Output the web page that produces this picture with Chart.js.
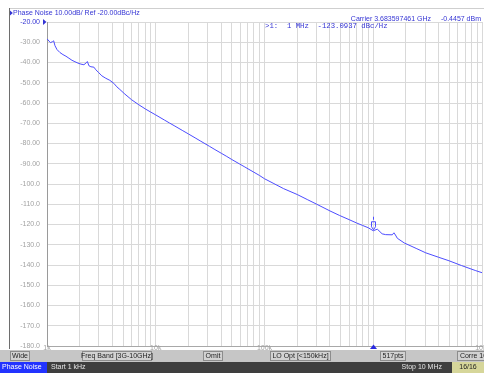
<!DOCTYPE html>
<html>
<head>
<meta charset="utf-8">
<script src="https://cdn.jsdelivr.net/npm/chart.js@4.4.1/dist/chart.umd.min.js"></script>
<style>
  html, body { margin: 0; padding: 0; background: #fff; overflow: hidden; }
  canvas { display: block; }
</style>
</head>
<body>
<canvas id="pn" width="484" height="373"></canvas>
<script>
// Offset frequency (Hz) of each trace sample
const freqHz = [
  1000, 1043, 1077, 1123, 1152, 1184, 1235, 1316, 1402, 1494,
  1592, 1696, 1806, 1925, 2051, 2185, 2301, 2350, 2429, 2533,
  2699, 2814, 3000, 3196, 3474, 3780, 4115, 4385, 4673, 5200,
  6000, 7000, 8000, 9000, 10000, 12000, 13400, 15000, 17500, 20000,
  23000, 26000, 31200, 35000, 40000, 45000, 50000, 58900, 65000, 72000,
  80000, 90000, 100000, 120000, 150000, 200000, 250000, 300000, 400000, 488000,
  600000, 700000, 800000, 900000, 1000000, 1090000, 1207000, 1300000, 1496000, 1550000,
  1600000, 1665000, 1926000, 2480000, 3043000, 4000000, 4966000, 6500000, 8770000, 10000000
];
// Single-sideband phase noise (dBc/Hz)
const noiseDbc = [
  -28.3, -29.4, -30.2, -29.7, -29.3, -31.7, -33.6, -35.1, -36.1, -36.9,
  -37.9, -38.9, -39.6, -40.3, -40.8, -41.1, -40.1, -39.5, -41.6, -42.1,
  -42.3, -43.6, -45.1, -46.6, -47.8, -48.8, -50.3, -52.0, -53.3, -55.6,
  -58.4, -60.9, -62.9, -64.5, -65.9, -68.4, -69.9, -71.4, -73.5, -75.3,
  -77.2, -78.9, -81.4, -83.0, -84.8, -86.4, -87.9, -90.1, -91.4, -92.8,
  -94.2, -95.8, -97.4, -99.6, -102.3, -105.2, -107.8, -109.9, -113.3, -115.5,
  -117.6, -119.2, -120.5, -121.6, -123.0937, -122.3, -124.6, -125.0, -125.1, -124.1,
  -125.2, -126.8, -129.1, -131.8, -134.0, -136.2, -137.9, -140.3, -142.8, -143.8
];

// Marker 1
const markerFreq = 1000000;
const markerValue = -123.0937;
const markerText = '>1:  1 MHz  -123.0937 dBc/Hz';

// Axis ranges and labels
const refLevel = -20;
const bottomLevel = -180;
const dbPerDiv = 10;
const gridDecades = [1000, 10000, 100000, 1000000];
const gridMultiples = [1, 2, 3, 4, 5, 6, 7, 8, 9];
const stopFreq = 10000000;
const xLabelFreqs = [1000, 10000, 100000, 10000000];
const xLabels = ['1k', '10k', '100k', '10M'];

const titleText = 'Phase Noise 10.00dB/ Ref -20.00dBc/Hz';
const carrierText = 'Carrier 3.683597461 GHz';
const carrierPower = '-0.4457 dBm';

const softkeys = [
  { text: 'Wide', x0: 10, x1: 30 },
  { text: 'Freq Band [3G-10GHz]', x0: 82, x1: 152 },
  { text: 'Omit', x0: 203, x1: 223 },
  { text: 'LO Opt [<150kHz]', x0: 270, x1: 331 },
  { text: '517pts', x0: 380, x1: 406 },
  { text: 'Corre 10', x0: 457, x1: 490 }
];

const BLUE_TEXT = '#3434d4';
const TRACE = '#4d4dff';
const GRID = '#d9d9d9';
const LABEL = '#a2a2a2';
const FONT = '"Liberation Sans", Arial, sans-serif';

const points = freqHz.map((f, i) => ({ x: f, y: noiseDbc[i] }));
const gridFreqs = [];
gridDecades.forEach(d => gridMultiples.forEach(m => gridFreqs.push(d * m)));
gridFreqs.push(stopFreq);

const analyzerChrome = {
  id: 'analyzerChrome',
  beforeDraw(chart) {
    const ctx = chart.ctx;
    ctx.save();
    ctx.fillStyle = '#ffffff';
    ctx.fillRect(0, 0, chart.width, chart.height);
    // window frame
    ctx.strokeStyle = '#cfcfcf';
    ctx.lineWidth = 1;
    ctx.beginPath();
    ctx.moveTo(9, 8.5); ctx.lineTo(chart.width, 8.5);
    ctx.stroke();
    ctx.strokeStyle = '#6e6e6e';
    ctx.beginPath();
    ctx.moveTo(9.5, 8); ctx.lineTo(9.5, 349);
    ctx.stroke();
    ctx.restore();
  },
  afterDraw(chart) {
    const ctx = chart.ctx;
    const xs = chart.scales.x, ys = chart.scales.y;
    const area = chart.chartArea;
    ctx.save();

    // title
    ctx.fillStyle = BLUE_TEXT;
    ctx.beginPath();
    ctx.moveTo(10, 10.5); ctx.lineTo(10, 15.5); ctx.lineTo(12.8, 13); ctx.closePath();
    ctx.fill();
    ctx.font = '7px ' + FONT;
    ctx.textBaseline = 'middle';
    ctx.textAlign = 'left';
    ctx.fillText(titleText, 13, 13);

    // carrier readout
    ctx.textAlign = 'right';
    ctx.fillText(carrierPower, 481, 19);
    ctx.fillText(carrierText, 431, 19);

    // marker readout
    ctx.textAlign = 'left';
    ctx.font = '7.3px "Liberation Mono", "DejaVu Sans Mono", monospace';
    ctx.fillText(markerText, 265, 26);

    // reference level pointer
    const yRef = ys.getPixelForValue(refLevel);
    ctx.beginPath();
    ctx.moveTo(43, yRef - 3); ctx.lineTo(43, yRef + 3); ctx.lineTo(46.5, yRef); ctx.closePath();
    ctx.fill();

    // frequency labels
    ctx.font = '7px ' + FONT;
    ctx.fillStyle = LABEL;
    ctx.textAlign = 'center';
    xLabelFreqs.forEach((f, i) => {
      ctx.fillText(xLabels[i], xs.getPixelForValue(f), area.bottom + 2.5);
    });

    // marker on trace
    const mx = Math.round(xs.getPixelForValue(markerFreq)) + 0.5;
    const my = ys.getPixelForValue(markerValue);
    ctx.strokeStyle = TRACE;
    ctx.fillStyle = TRACE;
    ctx.lineWidth = 1;
    ctx.beginPath();
    ctx.moveTo(mx, my - 14); ctx.lineTo(mx, my - 11);
    ctx.stroke();
    ctx.beginPath();
    ctx.moveTo(mx - 2, my - 9);
    ctx.lineTo(mx + 2, my - 9);
    ctx.lineTo(mx + 2, my - 4);
    ctx.lineTo(mx, my - 1);
    ctx.lineTo(mx - 2, my - 4);
    ctx.closePath();
    ctx.stroke();

    // marker pointer on frequency axis
    ctx.fillStyle = '#2a2ae0';
    ctx.beginPath();
    ctx.moveTo(mx - 3.5, 349); ctx.lineTo(mx + 3.5, 349); ctx.lineTo(mx, 344.5); ctx.closePath();
    ctx.fill();

    // softkey bar
    ctx.fillStyle = '#c6c6c6';
    ctx.fillRect(0, 350, chart.width, 12);
    ctx.font = '7px ' + FONT;
    ctx.textAlign = 'center';
    softkeys.forEach(k => {
      ctx.fillStyle = '#d2d2d2';
      ctx.fillRect(k.x0, 351, k.x1 - k.x0, 10);
      ctx.strokeStyle = '#8c8c8c';
      ctx.strokeRect(k.x0 + 0.5, 351.5, k.x1 - k.x0 - 1, 9);
      ctx.fillStyle = '#1e1e1e';
      ctx.fillText(k.text, (k.x0 + k.x1) / 2, 356.5);
    });

    // status bar
    ctx.fillStyle = '#3e3e3e';
    ctx.fillRect(0, 362, chart.width, 11);
    ctx.fillStyle = '#2233ff';
    ctx.fillRect(0, 362, 47, 11);
    ctx.fillStyle = '#ffffff';
    ctx.textAlign = 'left';
    ctx.fillText('Phase Noise', 2, 367.5);
    ctx.fillStyle = '#e6e6e6';
    ctx.fillText('Start 1 kHz', 51, 367.5);
    ctx.textAlign = 'right';
    ctx.fillText('Stop 10 MHz', 442, 367.5);
    ctx.fillStyle = '#d6d69a';
    ctx.fillRect(452, 362, chart.width - 452, 11);
    ctx.fillStyle = '#1e1e1e';
    ctx.textAlign = 'center';
    ctx.fillText('16/16', 468, 367.5);

    ctx.restore();
  }
};

new Chart(document.getElementById('pn'), {
  type: 'line',
  data: {
    datasets: [{
      data: points,
      borderColor: TRACE,
      borderWidth: 1,
      pointRadius: 0,
      tension: 0,
      fill: false
    }]
  },
  options: {
    responsive: false,
    devicePixelRatio: 1,
    animation: false,
    events: [],
    layout: { padding: { left: 0, top: 22, right: 2, bottom: 27 } },
    plugins: { legend: { display: false }, tooltip: { enabled: false } },
    scales: {
      x: {
        type: 'logarithmic',
        min: 1000,
        max: stopFreq,
        afterBuildTicks: s => { s.ticks = gridFreqs.map(v => ({ value: v })); },
        afterFit: s => { s.height = 0; },
        ticks: { display: false },
        grid: { color: GRID, lineWidth: 1, drawTicks: false },
        border: { color: '#a8a8a8', width: 1 }
      },
      y: {
        min: bottomLevel,
        max: refLevel,
        afterBuildTicks: s => {
          const t = [];
          for (let v = bottomLevel; v <= refLevel; v += dbPerDiv) t.push({ value: v });
          s.ticks = t;
        },
        afterFit: s => { s.width = 47; },
        ticks: {
          padding: 7,
          font: { family: FONT, size: 7 },
          color: c => (c.tick && c.tick.value === refLevel ? BLUE_TEXT : LABEL),
          callback: v => (v > -100 ? v.toFixed(2) : v.toFixed(1))
        },
        grid: { color: GRID, lineWidth: 1, drawTicks: false },
        border: { color: '#9a9a9a', width: 1 }
      }
    }
  },
  plugins: [analyzerChrome]
});
</script>
</body>
</html>
